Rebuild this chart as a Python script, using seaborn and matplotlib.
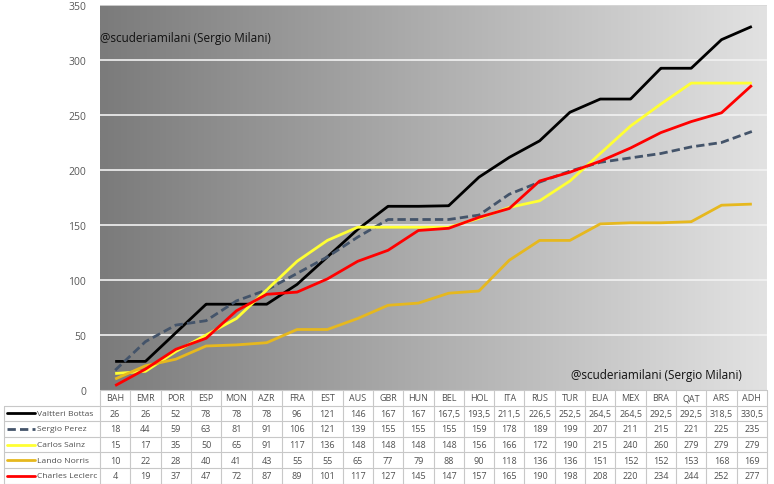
import numpy as np
import pandas as pd
import matplotlib
matplotlib.use("Agg")
import matplotlib.pyplot as plt
import seaborn as sns
from matplotlib.lines import Line2D

races = ["BAH", "EMR", "POR", "ESP", "MON", "AZR", "FRA", "EST", "AUS", "GBR", "HUN", "BEL",
         "HOL", "ITA", "RUS", "TUR", "EUA", "MEX", "BRA", "QAT", "ARS", "ADH"]
drivers = ["Valtteri Bottas", "Sergio Perez", "Carlos Sainz", "Lando Norris", "Charles Leclerc"]
bottas = [26, 26, 52, 78, 78, 78, 96, 121, 146, 167, 167, 167.5, 193.5, 211.5, 226.5, 252.5, 264.5, 264.5, 292.5, 292.5, 318.5, 330.5]
perez = [18, 44, 59, 63, 81, 91, 106, 121, 139, 155, 155, 155, 159, 178, 189, 199, 207, 211, 215, 221, 225, 235]
sainz = [15, 17, 35, 50, 65, 91, 117, 136, 148, 148, 148, 148, 156, 166, 172, 190, 215, 240, 260, 279, 279, 279]
norris = [10, 22, 28, 40, 41, 43, 55, 55, 65, 77, 79, 88, 90, 118, 136, 136, 151, 152, 152, 153, 168, 169]
leclerc = [4, 19, 37, 47, 72, 87, 89, 101, 117, 127, 145, 147, 157, 165, 190, 198, 208, 220, 234, 244, 252, 277]
series = [bottas, perez, sainz, norris, leclerc]
yticks = [0, 50, 100, 150, 200, 250, 300, 350]
watermark = "@scuderiamilani (Sergio Milani)"

colors = ["#000000", "#44546a", "#ffff33", "#e6b81e", "#ff0000"]
dashes = [(1, 0), (3, 1.5), (1, 0), (1, 0), (1, 0)]

rows = []
for d, vals in zip(drivers, series):
    for i, v in enumerate(vals):
        rows.append({"race": i, "pts": v, "driver": d})
df = pd.DataFrame(rows)

sns.set_style("white")
plt.rcParams["font.family"] = ["Open Sans", "DejaVu Sans"]

W, H = 774, 485
fig = plt.figure(figsize=(W / 100, H / 100), dpi=100)
left_px, right_px, top_px, bot_px = 100, 767, 6, 391
ax = fig.add_axes([left_px / W, 1 - bot_px / H, (right_px - left_px) / W, (bot_px - top_px) / H])

n = len(races)
ax.set_xlim(-0.5, n - 0.5)
ax.set_ylim(0, 350)

grad = np.linspace(0, 1, 256).reshape(1, -1)
cmap = matplotlib.colors.LinearSegmentedColormap.from_list("g", ["#7b7b7b", "#e2e2e2"])
ax.imshow(grad, aspect="auto", cmap=cmap, extent=(-0.5, n - 0.5, 0, 350), zorder=0)
for y in yticks[1:-1]:
    ax.axhline(y, color="#f2f2f2", lw=1.2, zorder=1)
ax.axhline(350, color="#d8d8d8", lw=1.2, zorder=1)

sns.lineplot(data=df, x="race", y="pts", hue="driver", style="driver",
             palette=dict(zip(drivers, colors)), dashes=dict(zip(drivers, dashes)),
             hue_order=drivers, style_order=drivers, linewidth=2.0, ax=ax, legend=False, zorder=3)

for s in ax.spines.values():
    s.set_visible(False)
ax.set_xticks([])
ax.set_yticks(yticks)
ax.set_yticklabels([str(t) for t in yticks], fontsize=7.5, color="#595959")
ax.tick_params(axis="y", length=0, pad=10)
ax.set_xlabel("")
ax.set_ylabel("")

ax.text(0.0, 0.915, watermark, transform=ax.transAxes, fontsize=8.5, color="#111111", ha="left", va="center")
ax.text(0.962, 0.04, watermark, transform=ax.transAxes, fontsize=8.5, color="#111111", ha="right", va="center")

tab = fig.add_axes([0, 0, 1, 1], zorder=5)
tab.set_xlim(0, W)
tab.set_ylim(H, 0)
tab.axis("off")
colw = (right_px - left_px) / n
row_h = 15.6
head_top = bot_px
grid_c = "#c8c8c8"
nrows = len(drivers)
for r in range(nrows + 2):
    y = head_top + r * row_h
    x0 = left_px if r == 0 else 4
    tab.plot([x0, right_px], [y, y], color=grid_c, lw=0.8)
for c in range(n + 1):
    x = left_px + c * colw
    tab.plot([x, x], [head_top, head_top + (nrows + 1) * row_h], color=grid_c, lw=0.8)
tab.plot([4, 4], [head_top + row_h, head_top + (nrows + 1) * row_h], color=grid_c, lw=0.8)

def fmt(v):
    return str(int(v)) if float(v).is_integer() else f"{v}".replace(".", ",")

for c, rname in enumerate(races):
    xc = left_px + (c + 0.5) * colw
    tab.text(xc, head_top + row_h / 2, rname, ha="center", va="center", fontsize=6.5, color="#505050")
for r, (d, vals) in enumerate(zip(drivers, series)):
    yc = head_top + (r + 1.5) * row_h
    tab.add_line(Line2D([7, 35], [yc, yc], color=colors[r], lw=2.0,
                        dashes=(3, 1.5) if r == 1 else (None, None)))
    tab.text(37, yc, d, ha="left", va="center", fontsize=6.1, color="#505050")
    for c, v in enumerate(vals):
        xc = left_px + (c + 0.5) * colw
        tab.text(xc, yc, fmt(v), ha="center", va="center", fontsize=6.5, color="#505050")

fig.savefig("out.png", dpi=100, facecolor="white")
